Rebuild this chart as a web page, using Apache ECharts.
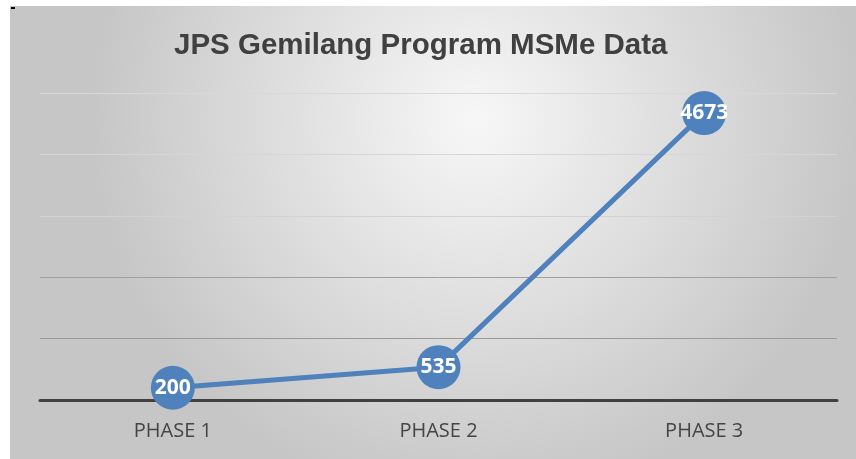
<!DOCTYPE html>
<html>
<head>
<meta charset="utf-8">
<script src="https://cdn.jsdelivr.net/npm/echarts@6/dist/echarts.min.js"></script>
<style>
  html, body { margin: 0; padding: 0; background: #fff; }
  #chart { position: absolute; left: 10px; top: 6px; width: 846px; height: 453px; }
  #dot { position: absolute; left: 11px; top: 7px; width: 4px; height: 2px; background: #000; z-index: 2; }
</style>
</head>
<body>
<div id="chart"></div>
<div id="dot"></div>
<script>
// categories and values
var categories = ['PHASE 1', 'PHASE 2', 'PHASE 3']
var msmeCount = [200, 535, 4673]

var chart = echarts.init(document.getElementById('chart'))

var option = {
    backgroundColor: {
        type: 'radial', x: 0.55, y: 0.25, r: 0.85,
        colorStops: [
            { offset: 0, color: '#f7f7f7' },
            { offset: 1, color: '#c6c6c6' }
        ]
    },
    title: {
        text: 'JPS Gemilang Program MSMe Data',
        left: 159,
        top: 20,
        textStyle: {
            fontFamily: 'Liberation Sans',
            fontWeight: 'bold',
            fontSize: 29.5,
            color: '#404040'
        }
    },
    grid: { left: 30, right: 19, top: 87, bottom: 59 },
    xAxis: {
        type: 'category',
        data: categories,
        boundaryGap: true,
        axisLine: { lineStyle: { color: '#404040', width: 3 } },
        axisTick: { show: false },
        axisLabel: {
            margin: 21,
            fontFamily: 'Open Sans',
            fontSize: 20,
            color: '#454545'
        }
    },
    yAxis: {
        type: 'value',
        min: 0,
        max: 5000,
        interval: 1000,
        axisLine: { show: false },
        axisTick: { show: false },
        axisLabel: { show: false },
        // lower gridlines look darker in the picture
        splitLine: { lineStyle: { color: ['#999', '#9a9a9a', '#a0a0a0', '#d2d2d2', '#d6d6d6', '#d8d8d8'], width: 1 } }
    },
    series: [{
        type: 'line',
        data: msmeCount,
        symbol: 'circle',
        symbolSize: 44,
        lineStyle: { color: '#4f81bd', width: 5 },
        itemStyle: { color: '#4f81bd' },
        label: {
            show: true,
            position: 'inside',
            fontFamily: 'Open Sans',
            fontWeight: 'bold',
            fontSize: 21,
            color: '#fff'
        },
        z: 3
    }]
}

chart.setOption(option)
</script>
</body>
</html>
